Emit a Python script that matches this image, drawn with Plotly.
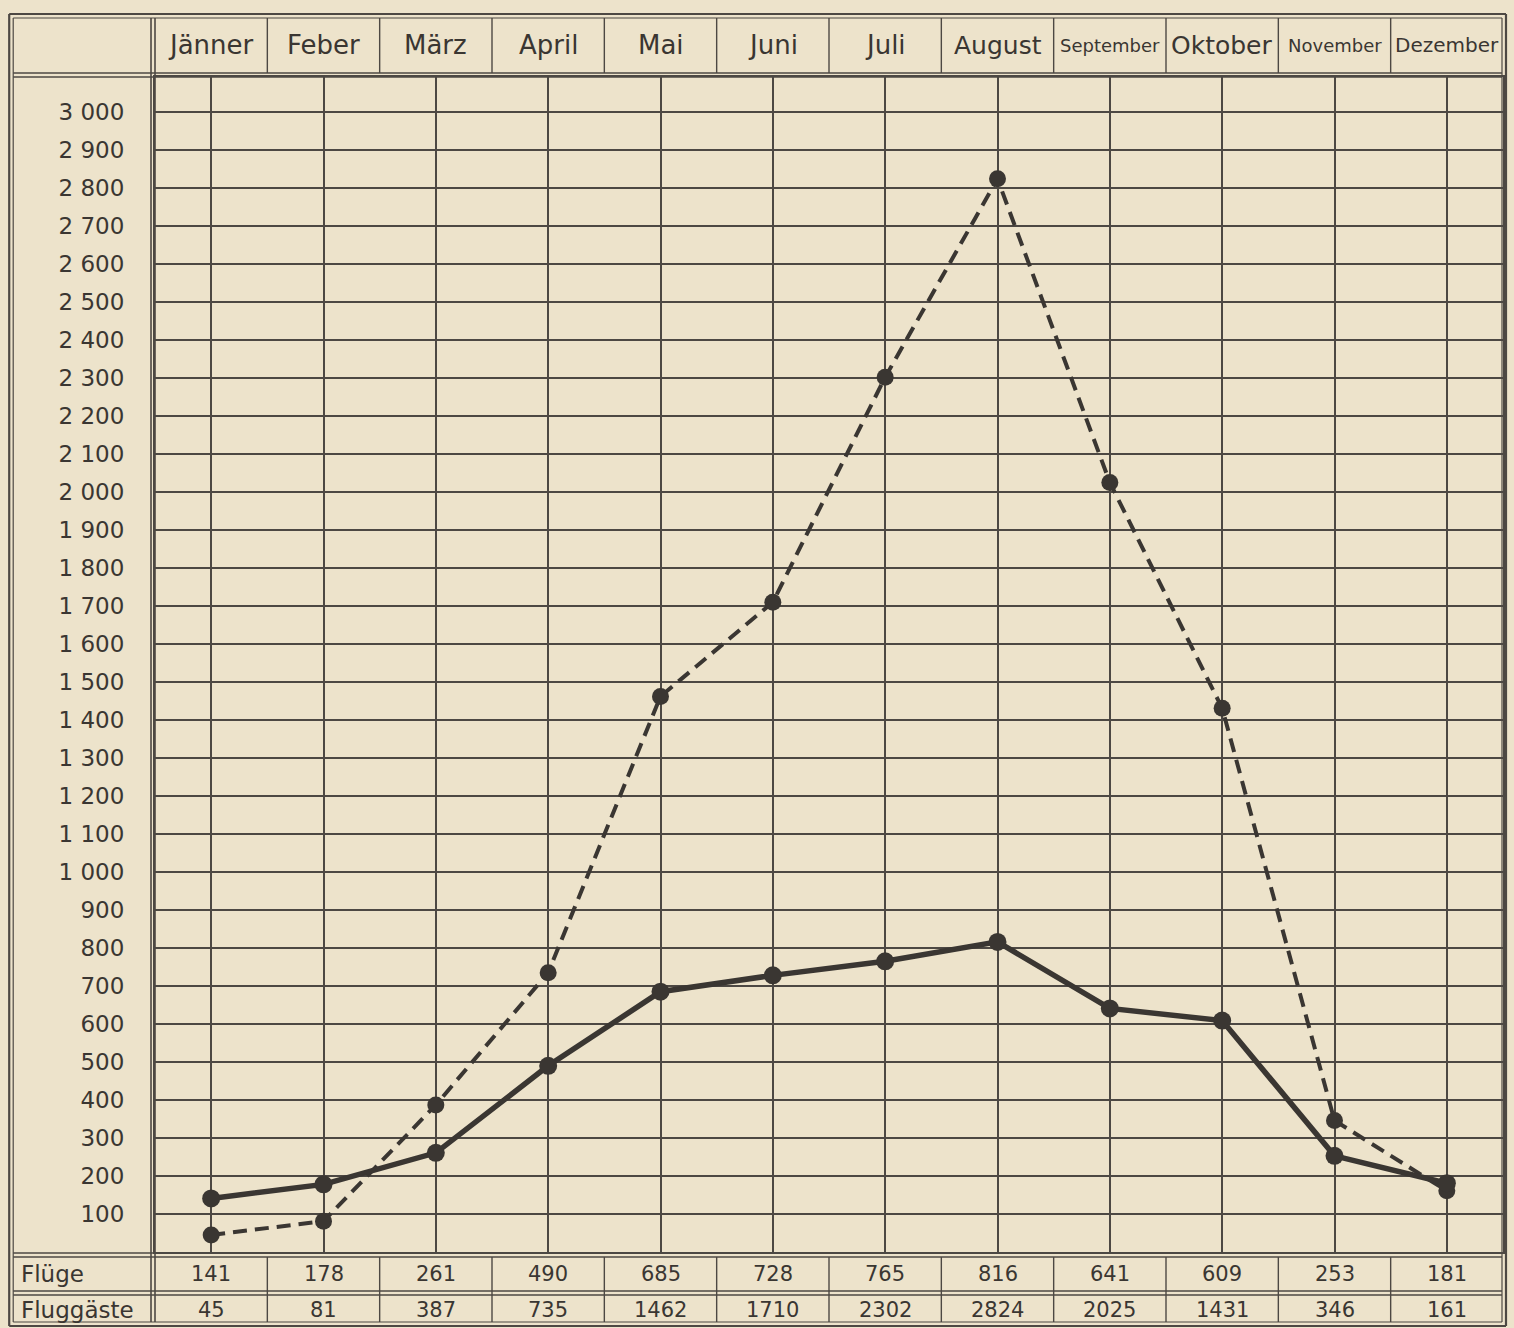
import plotly.graph_objects as go

# ---------------- data ----------------
months = ["Jänner", "Feber", "März", "April", "Mai", "Juni", "Juli", "August",
          "September", "Oktober", "November", "Dezember"]
fluege = [141, 178, 261, 490, 685, 728, 765, 816, 641, 609, 253, 181]
fluggaeste = [45, 81, 387, 735, 1462, 1710, 2302, 2824, 2025, 1431, 346, 161]
y_ticks = list(range(100, 3001, 100))
y_ticktext = [f"{v // 1000} {v % 1000:03d}" if v >= 1000 else str(v) for v in y_ticks]
row_labels = ["Flüge", "Fluggäste"]

# ---------------- styling ----------------
W, H = 1514, 1328
L, R, T, B = 155, 1505, 77, 1252
INK = "#3a3632"
GRID = "#4d4843"
BG = "#ede3cb"
FONT = "DejaVu Sans"


def xp(X):
    return (X - L) / (R - L)


def yp(Y):
    return (B - Y) / (B - T)


month_font = {"September": (FONT, 18), "November": (FONT, 18), "Dezember": (FONT, 20),
              "Oktober": (FONT, 25), "August": (FONT, 25)}

fig = go.Figure()
fig.add_trace(go.Scatter(
    x=months, y=fluggaeste, mode="lines+markers", name="Fluggäste",
    line=dict(color=INK, width=4, dash="14px,8px"),
    marker=dict(color=INK, size=17, symbol="circle"),
))
fig.add_trace(go.Scatter(
    x=months, y=fluege, mode="lines+markers", name="Flüge",
    line=dict(color=INK, width=5.5),
    marker=dict(color=INK, size=18, symbol="circle"),
))

shapes = []


def line(x0, y0, x1, y1, w=1.6):
    shapes.append(dict(type="line", xref="paper", yref="paper",
                       x0=xp(x0), y0=yp(y0), x1=xp(x1), y1=yp(y1),
                       line=dict(color=GRID, width=w)))


# outer double frame
for (a, b, c, d, w) in [(9, 14, 1508, 1326, 2.2), (13, 18, 1504, 1322, 1.2)]:
    line(a, b, c, b, w); line(a, d, c, d, w); line(a, b, a, d, w); line(c, b, c, d, w)
# left column separator (double)
line(151, 18, 151, 1322, 1.6)
line(155, 18, 155, 1322, 1.6)
# header bottom (double)
line(13, 73, 1504, 73, 1.6)
line(13, 77, 1504, 77, 1.6)
# table top (double)
line(13, 1253, 1504, 1253, 1.6)
line(13, 1257, 1504, 1257, 1.6)
# table row separator (double)
line(13, 1291, 1504, 1291, 1.4)
line(13, 1295, 1504, 1295, 1.4)
# month column separators in header and table
for k in range(1, 12):
    X = L + (R - L) * k / 12
    line(X, 18, X, 73, 1.4)
    line(X, 1257, X, 1322, 1.4)

annotations = []
for i, m in enumerate(months):
    fam, sz = month_font.get(m, (FONT, 26))
    annotations.append(dict(xref="paper", yref="paper", x=(i + 0.5) / 12, y=yp(45),
                            text=m, showarrow=False, xanchor="center", yanchor="middle",
                            font=dict(family=fam, size=sz, color=INK)))
for row, (vals, Y) in enumerate([(fluege, 1274), (fluggaeste, 1310)]):
    annotations.append(dict(xref="paper", yref="paper", x=xp(19), y=yp(Y),
                            text=row_labels[row], showarrow=False, xanchor="left",
                            yanchor="middle", font=dict(family=FONT, size=23, color=INK)))
    for i, v in enumerate(vals):
        annotations.append(dict(xref="paper", yref="paper", x=(i + 0.5) / 12, y=yp(Y),
                                text=str(v), showarrow=False, xanchor="center",
                                yanchor="middle", font=dict(family=FONT, size=21, color=INK)))

fig.update_layout(
    width=W, height=H,
    margin=dict(l=L, r=W - R, t=T, b=H - B),
    paper_bgcolor=BG, plot_bgcolor=BG,
    showlegend=False,
    shapes=shapes, annotations=annotations,
    font=dict(family=FONT, color=INK),
    xaxis=dict(type="category", categoryorder="array", categoryarray=months,
               range=[-0.5, 11.5], showgrid=True, gridcolor=GRID, gridwidth=1.8,
               showticklabels=False, ticks="", showline=True, mirror=True,
               linecolor=GRID, linewidth=2, zeroline=False, fixedrange=True),
    yaxis=dict(range=[0, 3092], tickvals=y_ticks, ticktext=y_ticktext,
               showgrid=True, gridcolor=GRID, gridwidth=1.8, ticks="",
               ticklabelstandoff=24, tickfont=dict(family=FONT, size=23, color=INK),
               showline=True, mirror=True, linecolor=GRID, linewidth=2,
               zeroline=False, fixedrange=True),
)

fig.write_html(
    "out.html",
    config={"displayModeBar": False},
    post_script="document.body.style.margin='0';document.body.style.background='#ede3cb';",
)
